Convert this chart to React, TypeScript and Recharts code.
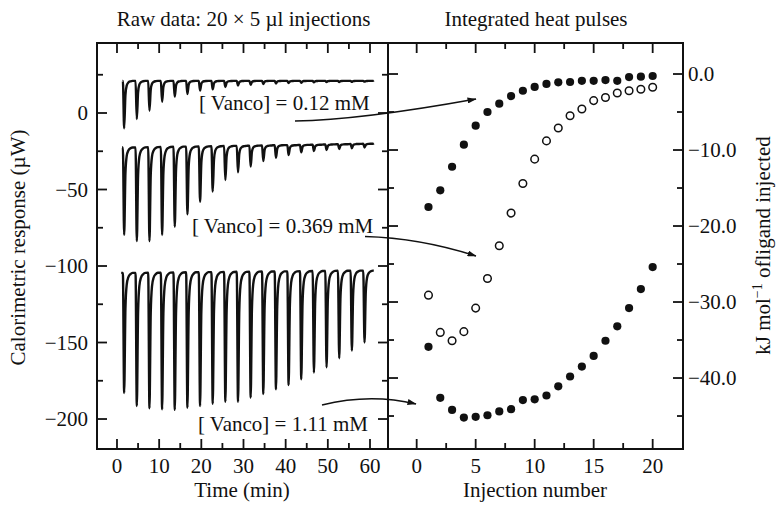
import React from "react";
import { LineChart, Line, XAxis, YAxis, ScatterChart, Scatter } from "recharts";

const FONT = '"Liberation Serif", "Times New Roman", serif';
const INK = "#111";

// plot frame (page px)
const PLOT_TOP = 43;
const PLOT_BOTTOM = 449;
const LEFT_X0 = 97;
const DIVIDER = 388;
const RIGHT_X1 = 683;

// ---- raw data panel ----
const INJ_TIMES = [1.7, 4.7, 7.7, 10.7, 13.7, 16.7, 19.7, 22.7, 25.7, 28.7, 31.7, 34.7, 37.7, 40.7, 43.7, 46.7, 49.7, 52.7, 55.7, 58.7];

const PEAKS_012 = [-10, -4, 1.5, 7.4, 10.7, 12.4, 14.6, 15.5, 17, 18, 18.5, 19, 19.3, 19.6, 19.8, 20, 20.2, 20.3, 20.4, 20.5];
const BASE_012 = [21, 21, 21, 21, 21, 21, 21, 21, 21, 21, 21, 21, 21, 21, 21, 21, 21, 21, 21, 21, 21.3];

const PEAKS_0369 = [-79.7, -83.7, -83.7, -79.7, -74.3, -66.2, -58, -51.4, -43.8, -38.8, -35, -31.4, -29.2, -27.5, -25.7, -24.8, -24.2, -23.5, -23, -22.5];
const BASE_0369 = [-22.5, -22.5, -22.3, -22.2, -22, -22, -21.8, -21.7, -21.5, -21.5, -21.3, -21.2, -21, -21, -20.8, -20.7, -20.5, -20.4, -20.2, -20.1, -19.8];

const PEAKS_111 = [-183, -191.5, -193, -193.7, -194, -192.6, -191.5, -190, -188.7, -188.7, -186, -183.7, -180.6, -177.8, -174, -169.7, -166.2, -160.3, -155.3, -150];
const BASE_111 = [-104.5, -104.5, -104.4, -104.3, -104.2, -104.1, -104, -104, -103.9, -103.8, -103.7, -103.6, -103.5, -103.5, -103.4, -103.3, -103.2, -103.1, -103, -103, -103];

// shape of one heat pulse: [minutes from peak, fraction of depth]
const PULSE_SHAPE = [[-0.3, 0], [0, 1], [0.3, 0.3], [0.6, 0.1], [1.0, 0.035], [1.5, 0.01], [2.0, 0]];

// ---- integrated heats panel ----
const INJ_NUM = [1, 2, 3, 4, 5, 6, 7, 8, 9, 10, 11, 12, 13, 14, 15, 16, 17, 18, 19, 20];
const HEAT_012 = [-17.5, -15.3, -12.2, -9.3, -6.8, -5.0, -3.9, -2.9, -2.2, -1.7, -1.3, -1.1, -1.05, -0.9, -0.9, -0.8, -0.9, -0.4, -0.35, -0.26];
const HEAT_0369 = [-29.1, -34.0, -35.1, -33.9, -30.8, -26.9, -22.6, -18.3, -14.4, -11.2, -8.8, -7.1, -5.5, -4.6, -3.5, -3.1, -2.5, -2.2, -2.0, -1.75];
const HEAT_111 = [-35.9, -42.6, -44.2, -45.2, -45.1, -44.9, -44.4, -44.1, -42.9, -42.8, -42.3, -41.1, -39.8, -38.5, -37.1, -35.1, -33.2, -30.8, -28.3, -25.4];

const X_TICKS_L = [0, 5, 10, 15, 20, 25, 30, 35, 40, 45, 50, 55, 60];
const Y_TICKS_L = [-200, -175, -150, -125, -100, -75, -50, -25, 0, 25];
const X_TICKS_R = [0, 2.5, 5, 7.5, 10, 12.5, 15, 17.5, 20];
const Y_TICKS_R = [-45, -40, -35, -30, -25, -20, -15, -10, -5, 0];

function buildTrace(start: number, end: number, base: number[], peaks: number[]) {
  const pts = [{ t: start, v: base[0] }];
  peaks.forEach((p, i) => {
    const b = base[i];
    PULSE_SHAPE.forEach(([dt, f]) => pts.push({ t: INJ_TIMES[i] + dt, v: b + f * (p - b) }));
  });
  pts.push({ t: end, v: base[base.length - 1] });
  return pts;
}

const trace012 = buildTrace(1.3, 60.9, BASE_012, PEAKS_012);
const trace0369 = buildTrace(1.2, 60.9, BASE_0369, PEAKS_0369);
const trace111 = buildTrace(1.0, 60.9, BASE_111, PEAKS_111);

const toPts = (ys: number[]) => INJ_NUM.map((n, i) => ({ n, v: ys[i] }));

const minus = (s: string) => s.replace("-", "\u2212");
const isMult = (v: number, m: number) => Math.abs(v / m - Math.round(v / m)) < 1e-6;

const textStyle = { fontFamily: FONT, fontSize: 21, fill: INK };

// bottom axis tick: label + inward ticks on bottom and top edges
const xTick = (every: number) => (props: any) => {
  const { x, payload } = props;
  const major = isMult(payload.value, every);
  const len = major ? 10 : 6;
  return (
    <g>
      <line x1={x} x2={x} y1={PLOT_BOTTOM} y2={PLOT_BOTTOM - len} stroke={INK} strokeWidth={1.8} />
      <line x1={x} x2={x} y1={PLOT_TOP} y2={PLOT_TOP + len} stroke={INK} strokeWidth={1.8} />
      {major && (
        <text x={x} y={473} textAnchor="middle" style={textStyle}>
          {String(payload.value)}
        </text>
      )}
    </g>
  );
};

// side axis tick: label + inward ticks on both edges of the panel
const yTick = (every: number, x0: number, x1: number, labelX: number, anchor: string, fmt: (v: number) => string) => (props: any) => {
  const { y, payload } = props;
  const major = isMult(payload.value, every);
  const len = major ? 10 : 6;
  return (
    <g>
      <line x1={x0} x2={x0 + len} y1={y} y2={y} stroke={INK} strokeWidth={1.8} />
      <line x1={x1} x2={x1 - len} y1={y} y2={y} stroke={INK} strokeWidth={1.8} />
      {major && (
        <text x={labelX} y={y + 7} textAnchor={anchor as any} style={textStyle}>
          {fmt(payload.value)}
        </text>
      )}
    </g>
  );
};

const filledDot = (p: any) => <circle cx={p.cx} cy={p.cy} r={4.1} fill={INK} />;
const openDot = (p: any) => <circle cx={p.cx} cy={p.cy} r={3.8} fill="#fff" stroke={INK} strokeWidth={1.5} />;

export default function App() {
  const rightW = 776 - DIVIDER;
  const rightPlotW = RIGHT_X1 - DIVIDER;
  return (
    <div style={{ position: "absolute", left: 0, top: 0, width: 776, height: 506, background: "#fff", overflow: "hidden" }}>
      <div style={{ position: "absolute", left: 0, top: 0 }}>
        <LineChart width={DIVIDER} height={506} margin={{ top: PLOT_TOP, right: 0, bottom: 0, left: 0 }}>
          <XAxis
            type="number"
            dataKey="t"
            domain={[-4.74, 64.27]}
            allowDataOverflow
            ticks={X_TICKS_L}
            interval={0}
            height={506 - PLOT_BOTTOM}
            axisLine={false}
            tickLine={false}
            tick={xTick(10)}
          />
          <YAxis
            type="number"
            dataKey="v"
            domain={[-219.6, 45.75]}
            allowDataOverflow
            ticks={Y_TICKS_L}
            interval={0}
            width={LEFT_X0}
            axisLine={false}
            tickLine={false}
            tick={yTick(50, LEFT_X0, DIVIDER, 88, "end", (v) => minus(String(v)))}
          />
          <Line data={trace012} dataKey="v" type="monotone" stroke={INK} strokeWidth={2.4} dot={false} isAnimationActive={false} />
          <Line data={trace0369} dataKey="v" type="monotone" stroke={INK} strokeWidth={2.4} dot={false} isAnimationActive={false} />
          <Line data={trace111} dataKey="v" type="monotone" stroke={INK} strokeWidth={2.4} dot={false} isAnimationActive={false} />
        </LineChart>
      </div>
      <div style={{ position: "absolute", left: DIVIDER, top: 0 }}>
        <ScatterChart width={rightW} height={506} margin={{ top: PLOT_TOP, right: 0, bottom: 0, left: 0 }}>
          <XAxis
            type="number"
            dataKey="n"
            domain={[-2.43, 22.57]}
            allowDataOverflow
            ticks={X_TICKS_R}
            interval={0}
            height={506 - PLOT_BOTTOM}
            axisLine={false}
            tickLine={false}
            tick={xTick(5)}
          />
          <YAxis
            type="number"
            dataKey="v"
            orientation="right"
            domain={[-49.34, 4.08]}
            allowDataOverflow
            ticks={Y_TICKS_R}
            interval={0}
            width={rightW - rightPlotW}
            axisLine={false}
            tickLine={false}
            tick={yTick(10, 0, rightPlotW, rightPlotW + 5, "start", (v) => minus(v.toFixed(1)))}
          />
          <Scatter data={toPts(HEAT_012)} shape={filledDot} isAnimationActive={false} />
          <Scatter data={toPts(HEAT_0369)} shape={openDot} isAnimationActive={false} />
          <Scatter data={toPts(HEAT_111)} shape={filledDot} isAnimationActive={false} />
        </ScatterChart>
      </div>
      <svg width={776} height={506} style={{ position: "absolute", left: 0, top: 0, pointerEvents: "none" }}>
        <defs>
          <marker id="ah" markerWidth="9" markerHeight="6" refX="8.5" refY="3" orient="auto" markerUnits="userSpaceOnUse">
            <path d="M0,0 L9,3 L0,6 Z" fill={INK} />
          </marker>
        </defs>
        <rect x={LEFT_X0} y={PLOT_TOP} width={RIGHT_X1 - LEFT_X0} height={PLOT_BOTTOM - PLOT_TOP} fill="none" stroke={INK} strokeWidth={2} />
        <line x1={DIVIDER} x2={DIVIDER} y1={PLOT_TOP} y2={PLOT_BOTTOM} stroke={INK} strokeWidth={2} />

        <text x={243.5} y={26} textAnchor="middle" style={textStyle}>Raw data: 20 × 5 µl injections</text>
        <text x={536} y={26} textAnchor="middle" style={textStyle}>Integrated heat pulses</text>
        <text x={242} y={497} textAnchor="middle" style={textStyle}>Time (min)</text>
        <text x={535} y={497} textAnchor="middle" style={textStyle}>Injection number</text>
        <text x={25} y={247.5} textAnchor="middle" transform="rotate(-90 25 247.5)" style={textStyle}>
          Calorimetric response (µW)
        </text>
        <text x={770} y={245.5} textAnchor="middle" transform="rotate(-90 770 245.5)" style={textStyle}>
          kJ mol<tspan dy={-8} fontSize={14}>−1</tspan>
          <tspan dy={8}> ofligand injected</tspan>
        </text>

        <text x={199} y={110} style={textStyle}>[ Vanco] = 0.12 mM</text>
        <text x={192} y={233} style={textStyle}>[ Vanco] = 0.369 mM</text>
        <text x={198} y={431} style={textStyle}>[ Vanco] = 1.11 mM</text>

        <path d="M295,121 Q360,120 476,99" fill="none" stroke={INK} strokeWidth={1.5} markerEnd="url(#ah)" />
        <path d="M365,236.5 Q420,238 476,256" fill="none" stroke={INK} strokeWidth={1.5} markerEnd="url(#ah)" />
        <path d="M322,405 Q370,393 416,404" fill="none" stroke={INK} strokeWidth={1.5} markerEnd="url(#ah)" />
      </svg>
    </div>
  );
}
